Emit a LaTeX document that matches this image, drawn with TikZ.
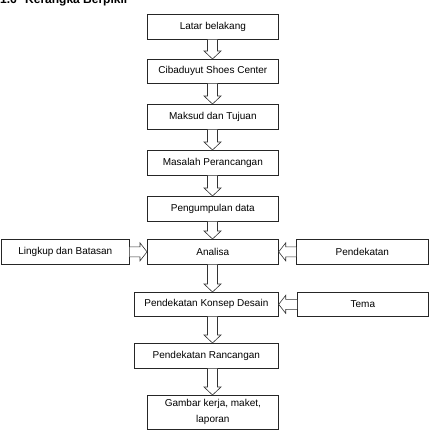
\documentclass[tikz,border=0pt]{standalone}
\usepackage{fontspec}
\setmainfont{Liberation Sans}
\usetikzlibrary{calc}
\tikzset{
  box/.style={draw=black!85, line width=0.7pt, inner sep=0pt, anchor=north west, font=\fontsize{10}{16}\selectfont, align=center},
  barrow/.style={draw=black!80, line width=0.6pt, fill=white, line join=miter},
}
\newcommand\varr[2]{\draw[barrow] let \p1=(#1.south), \p2=(#2.north) in
  (207.5pt,\y1) -- (207.5pt,\y2+8pt) -- (204pt,\y2+8pt) -- (212.5pt,\y2) -- (221pt,\y2+8pt) -- (217.5pt,\y2+8pt) -- (217.5pt,\y1);}
\newcommand\rarr[2]{\draw[barrow] let \p1=(#1.east), \p2=(#2.west) in
  (\x1,\y2+5pt) -- (\x2-7pt,\y2+5pt) -- (\x2-7pt,\y2+9pt) -- (\x2,\y2) -- (\x2-7pt,\y2-9pt) -- (\x2-7pt,\y2-5pt) -- (\x1,\y2-5pt);}
\newcommand\larr[2]{\draw[barrow] let \p1=(#1.west), \p2=(#2.east) in
  (\x1,\y2+5pt) -- (\x2+7pt,\y2+5pt) -- (\x2+7pt,\y2+9pt) -- (\x2,\y2) -- (\x2+7pt,\y2-9pt) -- (\x2+7pt,\y2-5pt) -- (\x1,\y2-5pt);}
\begin{document}
\begin{tikzpicture}[x=1pt,y=1pt]
\useasboundingbox (0,0) rectangle (432,-433);
\node[anchor=base west, font=\bfseries\fontsize{12}{14}\selectfont, inner sep=0pt] (t1) at (0,-4) {1.6};
\node[anchor=base west, font=\bfseries\fontsize{12}{14}\selectfont, inner sep=0pt] (t2) at (25,-4) {Kerangka Berpikir};
\node[box, minimum width=131pt, minimum height=25pt] (latar) at (147,-14) {Latar belakang};
\node[box, minimum width=131pt, minimum height=24pt] (cib) at (147,-59) {Cibaduyut Shoes Center};
\node[box, minimum width=131pt, minimum height=25pt] (maksud) at (147,-104) {Maksud dan Tujuan};
\node[box, minimum width=131pt, minimum height=25pt] (masalah) at (147,-150) {Masalah Perancangan};
\node[box, minimum width=131pt, minimum height=25pt] (kumpul) at (147,-196) {Pengumpulan data};
\node[box, minimum width=131pt, minimum height=25pt] (analisa) at (147,-239) {Analisa};
\node[box, minimum width=128pt, minimum height=25pt] (lingkup) at (1,-239) {Lingkup dan Batasan};
\node[box, minimum width=132pt, minimum height=25pt] (dekat) at (296,-239) {Pendekatan};
\node[box, minimum width=144pt, minimum height=24pt] (konsep) at (134,-292) {Pendekatan Konsep Desain};
\node[box, minimum width=131pt, minimum height=24pt] (tema) at (297,-292) {Tema};
\node[box, minimum width=144pt, minimum height=25pt] (ranc) at (134,-343) {Pendekatan Rancangan};
\node[box, minimum width=131pt, minimum height=34pt] (gambar) at (147,-395) {Gambar kerja, maket,\\laporan};
\varr{latar}{cib}
\varr{cib}{maksud}
\varr{maksud}{masalah}
\varr{masalah}{kumpul}
\varr{kumpul}{analisa}
\varr{analisa}{konsep}
\varr{konsep}{ranc}
\varr{ranc}{gambar}
\rarr{lingkup}{analisa}
\larr{dekat}{analisa}
\larr{tema}{konsep}
\end{tikzpicture}
\end{document}
